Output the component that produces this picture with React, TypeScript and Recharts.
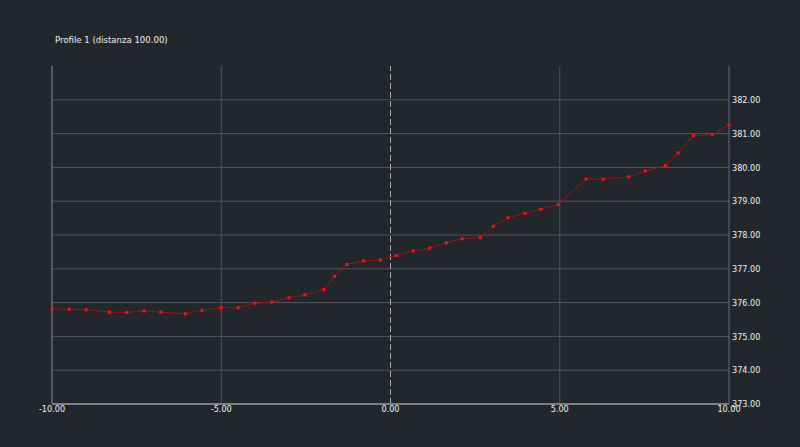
import { LineChart, Line, XAxis, YAxis, ReferenceLine } from 'recharts'

// Profile sample positions (distance from centre) and elevations
const distances = [
  -10.0, -9.49, -8.99, -8.3, -7.79, -7.28, -6.79, -6.06, -5.57, -5.0, -4.5, -4.0, -3.5, -3.0,
  -2.53, -1.97, -1.65, -1.29, -0.8, -0.3, 0.17, 0.67, 1.16, 1.65, 2.12, 2.65, 3.04, 3.47,
  3.97, 4.44, 4.95, 5.78, 6.28, 7.04, 7.53, 8.12, 8.5, 8.95, 9.51, 10.0,
]
const elevations = [
  375.82, 375.8, 375.79, 375.72, 375.71, 375.75, 375.72, 375.67, 375.77, 375.85, 375.85,
  375.98, 376.02, 376.14, 376.23, 376.39, 376.78, 377.13, 377.23, 377.26, 377.39, 377.53,
  377.61, 377.77, 377.89, 377.92, 378.26, 378.51, 378.64, 378.76, 378.9, 379.66, 379.65,
  379.72, 379.89, 380.05, 380.43, 380.94, 380.97, 381.26,
]
const xTicks = [-10, -5, 0, 5, 10]
const yTicks = [373, 374, 375, 376, 377, 378, 379, 380, 381, 382]
const xGrid = [-5, 5]

const data = distances.map((d, i) => ({ d, z: elevations[i] }))

const font = "'DejaVu Sans Condensed', 'DejaVu Sans', sans-serif"

const SquareDot = (props: any) => {
  const { cx, cy, index } = props
  if (cx == null || cy == null) return null
  return <rect key={index} x={cx - 1.5} y={cy - 1.5} width={3} height={3} fill="#ff1010" />
}

export default function App() {
  return (
    <div
      style={{
        position: 'fixed',
        top: 0,
        left: 0,
        width: 800,
        height: 447,
        background: '#22272e',
        fontFamily: font,
      }}
    >
      <div
        style={{
          position: 'absolute',
          left: 55,
          top: 34,
          fontSize: 9.5,
          color: '#f0f0f0',
        }}
      >
        Profile 1 (distanza 100.00)
      </div>
      <LineChart
        width={800}
        height={447}
        data={data}
        margin={{ top: 66, right: 0, left: 52, bottom: 13 }}
      >
        {yTicks.slice(1).map((t) => (
          <ReferenceLine key={'h' + t} y={t} stroke="#51565c" strokeWidth={1} />
        ))}
        {xGrid.map((t) => (
          <ReferenceLine key={'v' + t} x={t} stroke="#4e535a" strokeWidth={1} />
        ))}
        <ReferenceLine x={-10} stroke="#8a8e94" strokeWidth={1} />
        <ReferenceLine x={0} stroke="#a9adb2" strokeDasharray="6 3" strokeWidth={1} />
        <XAxis
          type="number"
          dataKey="d"
          domain={[-10, 10]}
          ticks={xTicks}
          tickFormatter={(v: number) => v.toFixed(2)}
          height={30}
          tickSize={0}
          tickMargin={2}
          axisLine={{ stroke: '#7d8187', strokeWidth: 2 }}
          tick={{ fill: '#f0f0f0', fontSize: 9, fontFamily: font }}
          interval={0}
        />
        <YAxis
          type="number"
          orientation="right"
          domain={[373, 383]}
          ticks={yTicks}
          tickFormatter={(v: number) => v.toFixed(2)}
          width={71}
          tickSize={0}
          tickMargin={3}
          axisLine={{ stroke: '#656a70' }}
          tick={{ fill: '#f0f0f0', fontSize: 9, fontFamily: font }}
          interval={0}
        />
        <Line
          type="linear"
          dataKey="z"
          stroke="#961414"
          strokeWidth={1}
          dot={<SquareDot />}
          activeDot={false}
          isAnimationActive={false}
        />
      </LineChart>
    </div>
  )
}
